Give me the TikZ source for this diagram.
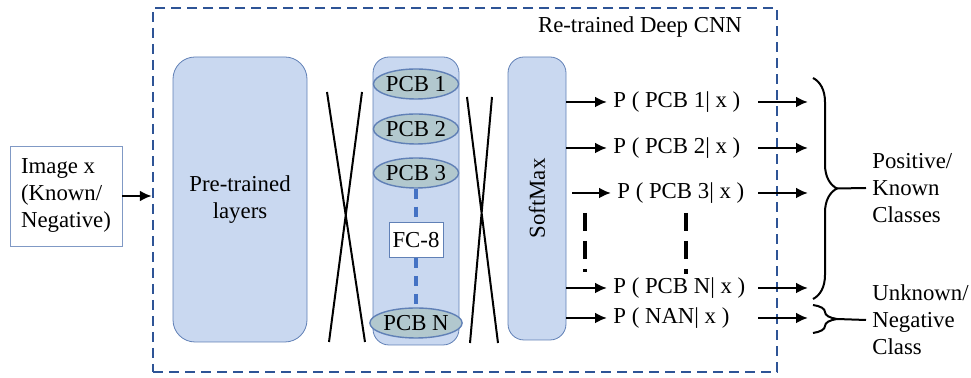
\documentclass[tikz,border=0pt]{standalone}
\usepackage{fontspec}
\setmainfont{Liberation Serif}
\usetikzlibrary{arrows.meta,shapes.geometric,decorations.pathreplacing}
\definecolor{framecol}{RGB}{46,84,150}
\definecolor{layerfill}{RGB}{201,216,240}
\definecolor{layerline}{RGB}{96,128,182}
\definecolor{pcbfill}{RGB}{178,200,206}
\definecolor{fcdash}{RGB}{68,114,196}

\begin{document}
\begin{tikzpicture}[x=0.5pt,y=-0.5pt,font=\fontsize{11.4}{13.5}\selectfont,
		arr/.style={-{Latex[length=6pt,width=5.5pt]},line width=1.2pt},
		layer/.style={draw=layerline,fill=layerfill,rounded corners=8pt,inner sep=0pt},
		pcb/.style={ellipse,draw=layerline,line width=0.7pt,fill=pcbfill,minimum width=40pt,minimum height=15pt,inner sep=0pt},
		prob/.style={anchor=west,inner sep=3pt},
		brc/.style={decorate,decoration={brace,amplitude=12pt},line width=1pt}]
	\useasboundingbox (0,0) rectangle (971,378);
	\node[draw=framecol,dash pattern=on 5pt off 3pt,line width=1.2pt,minimum width=312pt,minimum height=182pt] (cnn) at (465,190) {};
	\node (title) at (640,27) {Re-trained Deep CNN};
	\node[draw=layerline!80,align=left,minimum width=56pt,minimum height=50pt] (img) at (66,196) {Image x\\(Known/\\Negative)};
	\node[layer,rounded corners=11pt,minimum width=67pt,minimum height=142.5pt,align=center] (pre) at (240,199.5) {Pre-trained\\layers};
	\node[layer,minimum width=43pt,minimum height=144pt] (fc) at (416,201) {};
	\node[pcb] (pcb1) at (416,84) {PCB 1};
	\node[pcb] (pcb2) at (416,129) {PCB 2};
	\node[pcb] (pcb3) at (416,173) {PCB 3};
	\node[pcb] (pcbn) at (416,323) {PCB N};
	\node[draw=layerline,fill=white,minimum width=27pt,minimum height=17.5pt,inner sep=0pt] (fc8) at (416,240) {FC-8};
	\node[layer,minimum width=29pt,minimum height=141.5pt] (soft) at (537,198.5) {};
	\node[rotate=90] at (soft) {SoftMax};
	\draw[arr] (img) -- (img -| cnn.west);
	\draw[fcdash,line width=2pt,dash pattern=on 5pt off 4pt] (pcb3) -- (fc8) (fc8) -- (pcbn);
	\draw[line width=1pt] (327,92) -- (365,342) (362,92) -- (329,342);
	\draw[line width=1pt] (467,97) -- (498,343) (492,97) -- (470,343);
	\node[prob] (p1) at (607,102) {P ( PCB 1| x )};
	\node[prob] (p2) at (607,148) {P ( PCB 2| x )};
	\node[prob] (p3) at (611,193) {P ( PCB 3| x )};
	\node[prob] (pn) at (607,288) {P ( PCB N| x )};
	\node[prob] (pnan) at (607,318) {P ( NAN| x )};
	\coordinate (out) at (758,0);
	\foreach \p in {p1,p2,pn,pnan}
		\draw[arr] (soft.east |- \p) -- (\p.west);
	\draw[arr] (572,193) -- (p3.west);
	\foreach \p in {p1,p2,p3,pn,pnan}
		\draw[arr] (out |- \p) -- ++(50,0);
	\draw[line width=1.6pt,dash pattern=on 9pt off 5pt] (585,213) -- (585,272);
	\draw[line width=1.6pt,dash pattern=on 9pt off 5pt] (686,213) -- (686,274);
	\draw[brc] (813,78) -- (813,299);
	\draw[brc] (813,305) -- (813,333);
	\node[anchor=west,align=left,inner sep=3pt] (pos) at (866,188) {Positive/\\Known\\Classes};
	\node[anchor=west,align=left,inner sep=3pt] (neg) at (866,320) {Unknown/\\Negative\\Class};
	\draw[line width=1pt] (837,188.5) -- (pos.west);
	\draw[line width=1pt] (837,319) -- (neg.west);
\end{tikzpicture}
\end{document}
